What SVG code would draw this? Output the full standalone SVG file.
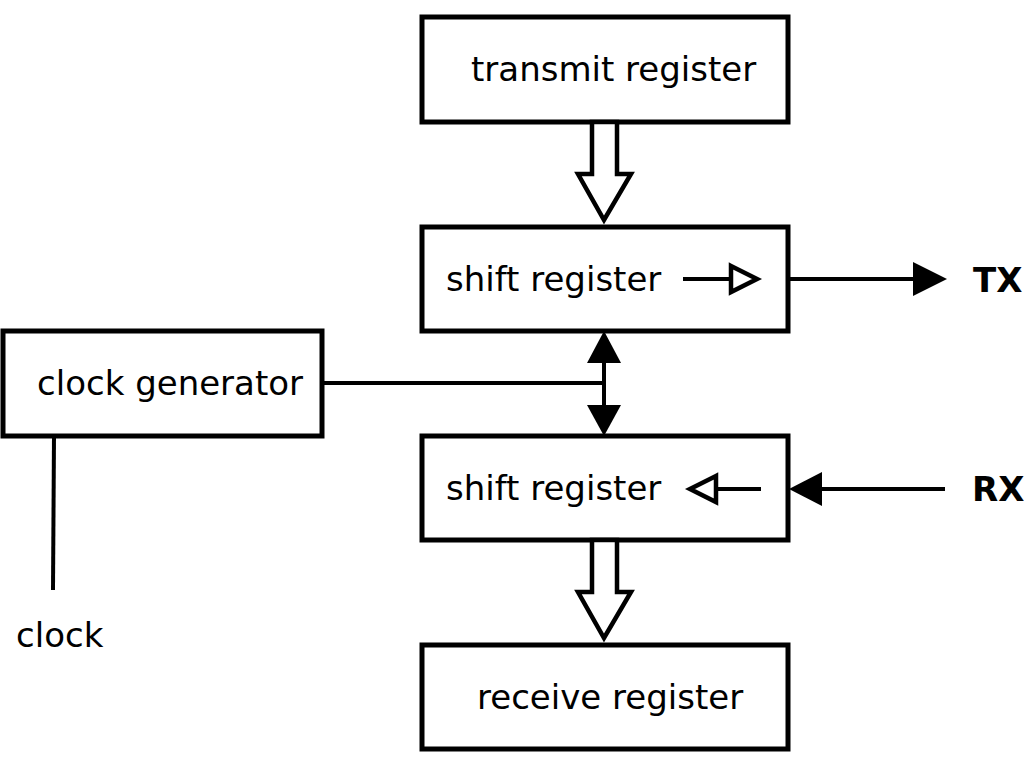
<svg xmlns="http://www.w3.org/2000/svg" width="1024" height="767" viewBox="0 0 1024 767">
<style>
.box{fill:#fff;stroke:#000;stroke-width:5}
.t{font-family:"DejaVu Sans",sans-serif;font-size:34px;fill:#000}
.b{font-family:"DejaVu Sans",sans-serif;font-size:34px;font-weight:bold;fill:#000}
.ln{stroke:#000;stroke-width:4;fill:none}
.hol{fill:#fff;stroke:#000;stroke-width:4.5;stroke-linejoin:miter}
.sol{fill:#000;stroke:none}
</style>
<rect width="1024" height="767" fill="#fff"/>
<g id="transmit-register"><rect class="box" x="422" y="17" width="366" height="105"/><text class="t" x="471" y="81">transmit register</text></g>
<g id="shift-register-tx"><rect class="box" x="422" y="227" width="366" height="104"/><text class="t" x="446" y="291">shift register</text></g>
<g id="shift-register-rx"><rect class="box" x="422" y="436" width="366" height="104"/><text class="t" x="446" y="500">shift register</text></g>
<g id="receive-register"><rect class="box" x="422" y="645" width="366" height="104"/><text class="t" x="477" y="709">receive register</text></g>
<g id="clock-generator"><rect class="box" x="3" y="331" width="319" height="105"/><text class="t" x="37" y="395">clock generator</text></g>
<g id="tx-label"><text class="b" x="973" y="292">TX</text></g>
<g id="rx-label"><text class="b" x="972" y="501">RX</text></g>
<g id="clock-label"><text class="t" x="16" y="647">clock</text></g>
<g id="connectors">
<polygon class="hol" points="592,122 617,122 617,174 631,174 604,220 578,174 592,174"/>
<polygon class="hol" points="592,540 617,540 617,592 631,592 604,638 578,592 592,592"/>
<line class="ln" x1="604" y1="360" x2="604" y2="408"/>
<polygon class="sol" points="604,331 621,363 587,363"/>
<polygon class="sol" points="604,436 621,405 587,405"/>
<line class="ln" x1="322" y1="383" x2="606" y2="383"/>
<line class="ln" x1="54" y1="436" x2="53" y2="590"/>
<line class="ln" x1="683" y1="279" x2="731" y2="279"/>
<polygon class="hol" points="731,266 757,279 731,292"/>
<line class="ln" x1="788" y1="279" x2="915" y2="279"/>
<polygon class="sol" points="947,279 913,262 913,296"/>
<line class="ln" x1="761" y1="489" x2="716" y2="489"/>
<polygon class="hol" points="716,476 690,489 716,502"/>
<line class="ln" x1="945" y1="489" x2="820" y2="489"/>
<polygon class="sol" points="789,489 822,472 822,506"/>
</g>
</svg>
